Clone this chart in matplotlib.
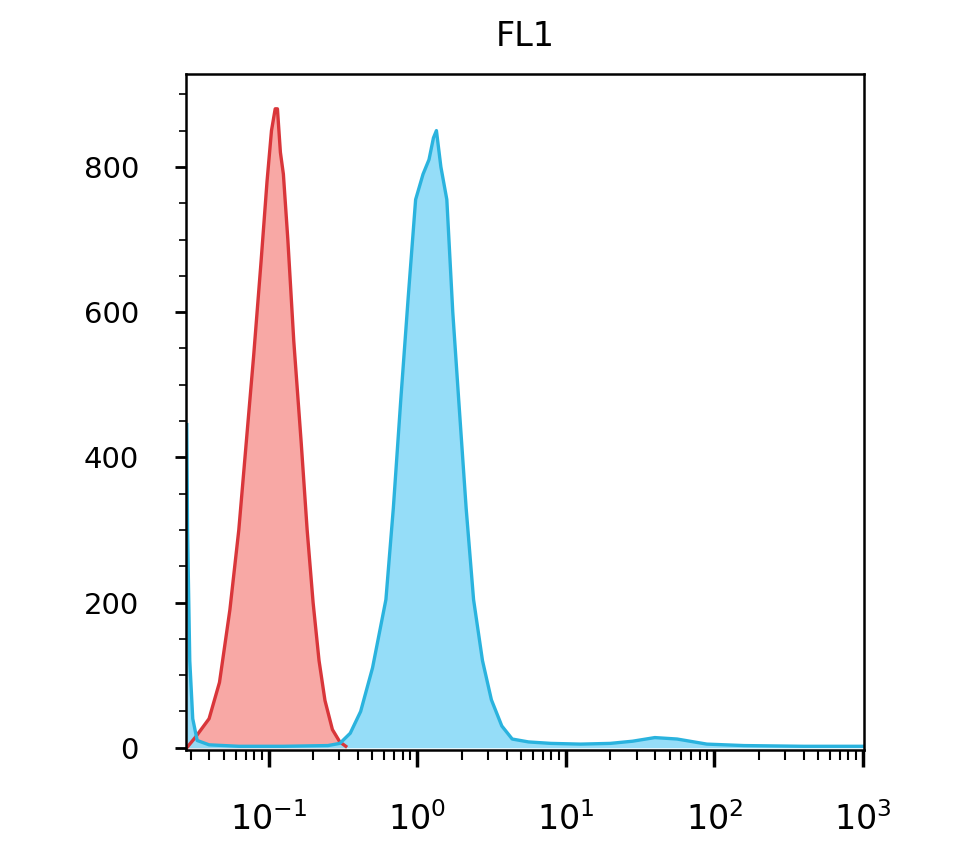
import matplotlib.pyplot as plt
from matplotlib.ticker import LogLocator, MultipleLocator, NullFormatter, FixedLocator

# FL1 histogram data (x in log10 units, y = counts)
red_log = [-1.55, -1.49, -1.40, -1.33, -1.26, -1.20, -1.15, -1.10, -1.05, -1.01, -0.98, -0.955,
           -0.94, -0.92, -0.90, -0.87, -0.83, -0.78, -0.74, -0.70, -0.66, -0.62, -0.57, -0.52, -0.48]
red_cnt = [0, 15, 40, 90, 190, 300, 420, 540, 670, 780, 850, 880,
           880, 820, 790, 700, 560, 420, 300, 200, 120, 65, 25, 8, 2]

blue_log = [-1.55, -1.545, -1.53, -1.51, -1.48, -1.40, -1.2, -0.9, -0.6, -0.52, -0.45, -0.38,
            -0.30, -0.21, -0.16, -0.11, -0.06, -0.01, 0.04, 0.08, 0.11, 0.13, 0.16, 0.20, 0.24,
            0.28, 0.33, 0.38, 0.44, 0.50, 0.57, 0.64, 0.75, 0.90, 1.10, 1.30, 1.45, 1.60, 1.75,
            1.95, 2.20, 2.60, 3.01]
blue_cnt = [445, 300, 120, 40, 10, 4, 2, 2, 3, 6, 20, 50,
            110, 204, 330, 479, 620, 755, 790, 810, 840, 850, 800, 755, 600,
            479, 330, 204, 120, 66, 30, 12, 8, 6, 5, 6, 9, 14, 12,
            5, 3, 2, 2]

red_x = [10 ** v for v in red_log]
blue_x = [10 ** v for v in blue_log]

fig = plt.figure(figsize=(9.8, 8.6), dpi=100)
ax = fig.add_axes([0.19, 0.128, 0.692, 0.786])

ax.fill_between(red_x, red_cnt, color='#f8a3a0', alpha=0.95, lw=0)
ax.plot(red_x, red_cnt, color='#d9363a', lw=2.4)
ax.fill_between(blue_x, blue_cnt, color='#8fdcf8', alpha=0.95, lw=0)
ax.plot(blue_x, blue_cnt, color='#2ab3de', lw=2.4)

ax.set_xscale('log')
ax.set_xlim(10 ** -1.554, 10 ** 3.01)
ax.set_ylim(-3, 928)

ax.xaxis.set_major_locator(FixedLocator([0.1, 1, 10, 100, 1000]))
ax.xaxis.set_minor_locator(LogLocator(base=10, subs=range(2, 10), numticks=20))
ax.xaxis.set_minor_formatter(NullFormatter())
ax.set_xticklabels(['$10^{-1}$', '$10^{0}$', '$10^{1}$', '$10^{2}$', '$10^{3}$'])
ax.tick_params(axis='x', which='major', length=12, width=2.5, direction='out', labelsize=24, pad=26)
ax.tick_params(axis='x', which='minor', length=7, width=1.5, direction='out')

ax.yaxis.set_major_locator(MultipleLocator(200))
ax.yaxis.set_minor_locator(MultipleLocator(50))
ax.tick_params(axis='y', which='major', length=8, width=2, direction='out', labelsize=21, pad=26)
ax.tick_params(axis='y', which='minor', length=5, width=1.2, direction='out')

for s in ax.spines.values():
    s.set_linewidth(1.8)

ax.set_title('FL1', fontsize=24, pad=20)

fig.savefig('out.png', dpi=100)
